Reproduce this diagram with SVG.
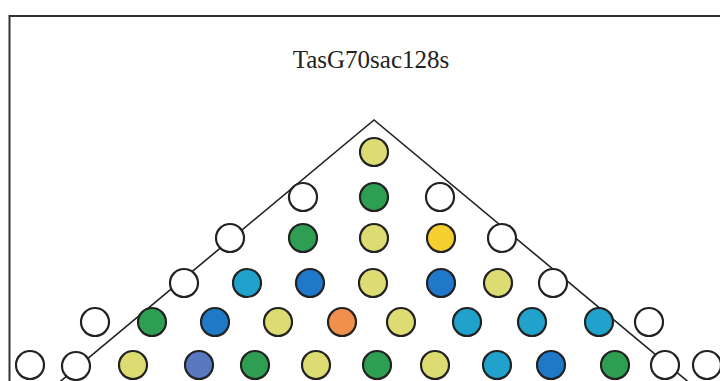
<svg xmlns="http://www.w3.org/2000/svg" width="720" height="381" viewBox="0 0 720 381">
<style>
  .c { stroke: #222; stroke-width: 2.2; }
  .w { fill: #ffffff; }
  .yg { fill: #dcdc72; }
  .gr { fill: #2e9e52; }
  .go { fill: #f5cf2e; }
  .cy { fill: #20a2cc; }
  .bl { fill: #1f78c8; }
  .bp { fill: #5a78c0; }
  .or { fill: #f0904c; }
  .title { font-family: "Liberation Serif", "Times New Roman", serif; font-size: 25px; fill: #222; }
</style>
<rect x="0" y="0" width="720" height="381" fill="#ffffff"/>
<g id="frame">
  <path d="M9.5,395 V16 H730" fill="none" stroke="#333" stroke-width="2"/>
</g>
<text class="title" x="371" y="68" text-anchor="middle">TasG70sac128s</text>
<g id="connectors">
  <polyline points="44,395 374,120 704,395" fill="none" stroke="#222" stroke-width="1.6"/>
</g>
<g id="nodes">
  <g id="r1c1"><circle class="c yg" cx="374" cy="152" r="14"/></g>

  <g id="r2c1"><circle class="c w" cx="303" cy="197" r="14"/></g>
  <g id="r2c2"><circle class="c gr" cx="374" cy="197" r="14"/></g>
  <g id="r2c3"><circle class="c w" cx="440" cy="197" r="14"/></g>

  <g id="r3c1"><circle class="c w" cx="230" cy="238" r="14"/></g>
  <g id="r3c2"><circle class="c gr" cx="303" cy="238" r="14"/></g>
  <g id="r3c3"><circle class="c yg" cx="374" cy="238" r="14"/></g>
  <g id="r3c4"><circle class="c go" cx="441" cy="238" r="14"/></g>
  <g id="r3c5"><circle class="c w" cx="502" cy="238" r="14"/></g>

  <g id="r4c1"><circle class="c w" cx="184" cy="283" r="14"/></g>
  <g id="r4c2"><circle class="c cy" cx="247" cy="283" r="14"/></g>
  <g id="r4c3"><circle class="c bl" cx="310" cy="283" r="14"/></g>
  <g id="r4c4"><circle class="c yg" cx="373" cy="283" r="14"/></g>
  <g id="r4c5"><circle class="c bl" cx="441" cy="283" r="14"/></g>
  <g id="r4c6"><circle class="c yg" cx="498" cy="283" r="14"/></g>
  <g id="r4c7"><circle class="c w" cx="553" cy="283" r="14"/></g>

  <g id="r5c1"><circle class="c w" cx="95" cy="322" r="14"/></g>
  <g id="r5c2"><circle class="c gr" cx="152" cy="322" r="14"/></g>
  <g id="r5c3"><circle class="c bl" cx="215" cy="322" r="14"/></g>
  <g id="r5c4"><circle class="c yg" cx="278" cy="322" r="14"/></g>
  <g id="r5c5"><circle class="c or" cx="342" cy="322" r="14"/></g>
  <g id="r5c6"><circle class="c yg" cx="401" cy="322" r="14"/></g>
  <g id="r5c7"><circle class="c cy" cx="467" cy="322" r="14"/></g>
  <g id="r5c8"><circle class="c cy" cx="532" cy="322" r="14"/></g>
  <g id="r5c9"><circle class="c cy" cx="599" cy="322" r="14"/></g>
  <g id="r5c10"><circle class="c w" cx="649" cy="322" r="14"/></g>

  <g id="r6c1"><circle class="c w" cx="30" cy="365" r="14"/></g>
  <g id="r6c2"><circle class="c w" cx="76" cy="366" r="14"/></g>
  <g id="r6c3"><circle class="c yg" cx="133" cy="365" r="14"/></g>
  <g id="r6c4"><circle class="c bp" cx="199" cy="365" r="14"/></g>
  <g id="r6c5"><circle class="c gr" cx="255" cy="365" r="14"/></g>
  <g id="r6c6"><circle class="c yg" cx="316" cy="365" r="14"/></g>
  <g id="r6c7"><circle class="c gr" cx="377" cy="365" r="14"/></g>
  <g id="r6c8"><circle class="c yg" cx="435" cy="365" r="14"/></g>
  <g id="r6c9"><circle class="c cy" cx="497" cy="365" r="14"/></g>
  <g id="r6c10"><circle class="c bl" cx="551" cy="365" r="14"/></g>
  <g id="r6c11"><circle class="c gr" cx="615" cy="365" r="14"/></g>
  <g id="r6c12"><circle class="c w" cx="665" cy="365" r="14"/></g>
  <g id="r6c13"><circle class="c w" cx="707" cy="365" r="14"/></g>
</g>
</svg>
